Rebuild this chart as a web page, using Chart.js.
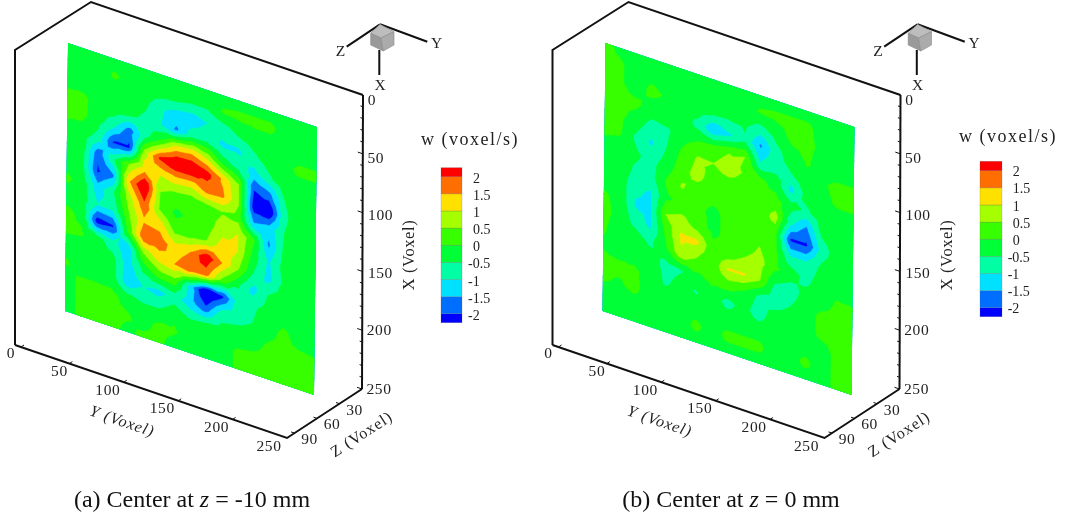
<!DOCTYPE html>
<html><head><meta charset="utf-8">
<style>html,body{margin:0;padding:0;background:#fff}#w{position:absolute;left:0;top:0;width:1067px;height:517px}</style>
<script src="https://cdn.jsdelivr.net/npm/chart.js@4/dist/chart.umd.min.js"></script>
</head><body><div id="w"><canvas id="c" width="1067" height="517"></canvas></div>
<script>
// ---------- data ----------
const contourLevels = [-2,-1.5,-1,-0.5,0,0.5,1,1.5,2];
const bandColors = ['#0000ff','#006eff','#00e1ff','#00ffa5','#00ff37','#37ff00','#a5ff00','#ffe100','#ff6e00','#ff0000'];
const legendLabels = ['2','1.5','1','0.5','0','-0.5','-1','-1.5','-2'];
const xTicks = [0,50,100,150,200,250];
const yTicks = [0,50,100,150,200,250];
const zTicks = [30,60,90];
const captions = ['(a) Center at ','(b) Center at '];
const captionTails = [' = -10 mm',' = 0 mm'];
// w on the measurement plane, rows run down X, columns run along Y
const wCenterMinus10 = [
[-.1,-.2,-.2,-.2,-.2,-.2,-.2,-.2,-.2,-.2,-.2,-.2,-.2,-.2,-.2,-.2,-.2],
[-.2,-.2,-.2,.05,-.1,-.2,-.2,-.2,-.4,-.4,.05,.1,.1,.1,-.2,-.2,-.2],
[-.1,-.2,-.2,-.2,-.2,-.4,-.9,-1.2,-1.3,-1.0,-.8,-.4,-.2,-.2,-.2,-.2,-.2],
[.05,.1,-.2,-.2,-.4,-.6,-1.0,-1.6,-.8,-.7,-1.1,-1.1,-.6,-.2,-.1,.1,.1],
[.1,.1,-.3,-.9,-1.8,-.7,.1,1.1,1.3,.8,-.2,-.7,-1.2,-.6,-.1,-.2,-.2],
[-.1,-.2,-.7,-2.1,-2.1,.8,2.1,2.6,2.6,2.2,1.4,.5,-2.0,-1.7,-.5,-.2,-.2],
[-.2,-.3,-1.9,-.6,.5,1.3,1.0,1.2,1.1,1.7,1.6,.6,-2.3,-2.6,-.6,-.2,-.2],
[-.2,-.4,-2.1,-1.6,1.4,2.6,.5,.2,.1,.2,.45,.3,-1.5,-1.3,-.5,-.2,-.2],
[.1,-.2,-1.3,-.6,.7,1.9,.4,-.1,.1,.2,.8,1.0,.1,-1.6,-.4,-.2,-.2],
[-.2,-.2,-1.0,-.9,.4,1.4,1.3,.3,.3,.5,1.2,1.0,-.2,-1.1,-.3,-.2,-.2],
[.1,-.1,-2.3,-2.1,.1,1.9,1.8,1.2,1.5,2.4,1.5,.6,-.5,-1.2,-.4,-.2,-.2],
[.1,.05,-.3,-.8,-1.4,.5,1.2,1.5,1.9,1.7,.4,-.4,-1.2,-.5,-.2,-.2,-.2],
[-.2,-.2,-.2,-.3,-1.3,-.4,.2,.3,-1.2,-2.8,-2.2,-.9,-.6,-.3,-.2,-.2,-.2],
[.05,-.2,-.2,-.3,-1.4,-1.0,-1.2,-.8,-1.3,-1.9,-.8,-.7,-.5,-.2,.1,-.2,-.2],
[-.2,.1,.1,.1,-.2,-.5,-.5,-.1,-.5,-.4,-.3,-.2,-.2,.05,.1,.1,.05],
[-.2,.1,.1,.1,.05,-.2,.1,.05,-.2,-.2,-.2,.05,.1,.1,.1,.1,.1],
[-.2,.1,.1,.1,-.1,.1,.1,-.2,-.2,-.2,-.2,.05,.1,.1,.1,.1,.15]
];
const wCenter0 = [
[.1,-.1,-.2,-.2,-.2,-.2,-.2,-.2,-.2,-.2,-.2,-.2,-.2,-.2,-.2,-.2,-.2],
[.1,.05,-.2,-.1,-.2,-.2,-.2,-.2,-.2,-.2,.05,.1,.1,.1,-.2,-.2,-.2],
[.1,.05,-.2,.1,-.05,-.2,-.2,-.4,-.45,-.4,-.7,-.3,.1,.1,-.1,-.2,-.2],
[.05,.1,.1,-.2,-.2,-.2,-.7,-1.5,-1.1,-.6,-1.6,-.7,-.2,.05,-.2,-.2,-.2],
[.05,.1,-.2,-.7,-.6,-.2,.0,.1,.45,.5,-1.0,-.7,-.5,-.1,-.05,.1,.1],
[.1,.05,-.6,-1.1,-.5,.1,.55,.5,.9,.4,.1,-.2,-1.2,-.3,-.1,.05,.05],
[-.1,-.2,-.4,-.7,-.3,.3,.7,.2,.1,.1,.1,.2,-.3,-.6,-.2,-.2,-.2],
[-.2,-.2,-.6,-.7,.05,.55,.2,.1,.1,.1,.2,.7,-.9,-1.6,-.4,-.2,-.2],
[-.2,-.2,-.9,-1.05,-.1,.1,.1,-.1,.1,.1,.1,.1,-2.1,-2.1,-.8,-.2,-.2],
[.05,-.1,-1.05,-1.1,.5,.7,.2,-.1,.1,.15,.5,.15,-1.0,-1.0,-.4,-.2,-.2],
[.1,-.1,-.7,-1.1,.1,1.1,1.1,.1,.1,.5,.7,.1,-.2,-.7,-.2,-.1,-.2],
[.05,-.2,-.2,-.6,-.1,.9,.45,.1,1.05,1.05,.55,-.55,-.8,-.3,-.2,.05,.05],
[-.05,-.2,-.1,-.2,-.7,-.55,-.1,.1,.2,-.05,-.6,-.8,-.5,-.2,.1,.1,.1],
[.1,.1,.05,-.1,-.6,-.3,-.55,-.2,-.7,-.3,-.8,-.2,-.2,-.2,.1,.1,.1],
[.05,-.05,.1,-.2,-.2,-.2,-.2,-.2,-.2,-.2,-.2,-.2,-.2,-.2,-.2,.1,.1],
[-.2,-.2,-.2,-.2,-.2,-.2,.1,-.2,.1,.1,.1,-.2,-.2,.1,-.2,.1,.05],
[-.2,-.2,-.2,-.2,-.2,-.2,-.2,-.2,-.2,-.2,-.2,-.2,-.2,-.2,-.2,.1,.1]
];
const panels = [wCenterMinus10, wCenter0];

// ---------- layout (figure units = chart scale units) ----------
const FONT='"Liberation Serif","Times New Roman",serif';
const INK='#111';
const panelDx=[0,537.5];
const legendBox=[{x0:441,x1:462,top:167.7,bot:322.7,v2:176.7,vm2:313.7,txt:473,txtN:468,ty:2.4,tx:470,tyy:140},
                 {x0:980,x1:1002,top:161.3,bot:316.7,v2:170.7,vm2:307.7,txt:1012.7,txtN:1007.7,ty:2,tx:1008,tyy:137}];
function axisX(v,d){return [363-1.0*v/250+d, 95+294*v/250];}
function axisY(v,d){return [15+272*v/250+d, 345+93*v/250];}
function axisZ(v,d){return [362-75*v/100+d, 389+49*v/100];}
function plane(j,i,d,n){const u=i/(n-1),w=j/(n-1);return [68+249*u-3*w+d, 43+84*u+268*w];}

// ---------- datasets via the library: axes, box, triad ----------
function seg(pts,width){return {type:'scatter',showLine:true,data:pts.map(p=>({x:p[0],y:p[1]})),borderColor:INK,borderWidth:width,pointRadius:0,fill:false,tension:0,clip:false,order:1};}
const datasets=[];
panelDx.forEach((d,k)=>{
  const topC=[91+d,2];
  datasets.push(seg([axisX(0,d),axisX(250,d)],2));
  datasets.push(seg([axisY(0,d),axisY(250,d),axisZ(100,d),axisX(250,d)],2));
  datasets.push(seg([axisY(0,d),[15+d,50],topC,axisX(0,d)],2));
  for(let v=0;v<=250;v+=10){
    const p=axisX(v,d),L=(v%50===0)?5:2.5;
    datasets.push(seg([p,[p[0]-L,p[1]-L*0.34]],1));
  }
  yTicks.slice(0,5).forEach(v=>{const p=axisY(v,d);if(v===0){p[0]+=6;p[1]+=2;}datasets.push(seg([p,[p[0]+3,p[1]-2]],1));});
  zTicks.forEach(v=>{const p=axisZ(v,d);datasets.push(seg([p,[p[0]-3.5,p[1]-1.2]],1));});
  // triad arms
  const o=[380+d,24.3];
  datasets.push(seg([o,[427.3+d,41.7]],2));
  datasets.push(seg([o,[346.7+d,46.7]],2));
  datasets.push(seg([[379.3+d,50],[379.3+d,75]],2));
});

// ---------- contour painter: fills the region >= each level on every triangle ----------
function clipAbove(tri,lev){
  const out=[];
  for(let a=0;a<3;a++){
    const P=tri[a],Q=tri[(a+1)%3];
    const pi=P[2]>=lev,qi=Q[2]>=lev;
    if(pi)out.push(P);
    if(pi!==qi){const t=(lev-P[2])/(Q[2]-P[2]);out.push([P[0]+t*(Q[0]-P[0]),P[1]+t*(Q[1]-P[1]),lev]);}
  }
  return out;
}
const contourPlugin={id:'contour',beforeDatasetsDraw(chart){
  const {ctx,scales:{x,y}}=chart;
  panels.forEach((grid,k)=>{
    const d=panelDx[k],n=grid.length;
    const N=(j,i)=>{const p=plane(j,i,d,n);return [x.getPixelForValue(p[0]),y.getPixelForValue(p[1]),grid[j][i]];};
    const tris=[];
    for(let j=0;j<n-1;j++)for(let i=0;i<n-1;i++){
      const a=N(j,i),b=N(j,i+1),c=N(j+1,i+1),e=N(j+1,i);
      const cen=[(a[0]+b[0]+c[0]+e[0])/4,(a[1]+b[1]+c[1]+e[1])/4,(a[2]+b[2]+c[2]+e[2])/4];
      tris.push([a,b,cen],[b,c,cen],[c,e,cen],[e,a,cen]);
    }
    ctx.save();ctx.lineWidth=0.6;ctx.lineJoin='round';
    const cs=[N(0,0),N(0,n-1),N(n-1,n-1),N(n-1,0)];
    ctx.beginPath();cs.forEach((p,q)=>q?ctx.lineTo(p[0],p[1]):ctx.moveTo(p[0],p[1]));ctx.closePath();ctx.clip();
    [-Infinity,...contourLevels].forEach((lev,li)=>{
      ctx.fillStyle=ctx.strokeStyle=bandColors[li];
      ctx.beginPath();
      tris.forEach(t=>{
        const poly=clipAbove(t,lev);
        if(poly.length<3)return;
        poly.forEach((p,q)=>q?ctx.lineTo(p[0],p[1]):ctx.moveTo(p[0],p[1]));ctx.closePath();
      });
      ctx.fill();ctx.stroke();
    });
    ctx.restore();
  });
},
afterDatasetsDraw(chart){
  const {ctx,scales:{x,y}}=chart;
  const X=v=>x.getPixelForValue(v),Y=v=>y.getPixelForValue(v);
  const text=(s,px,py,o={})=>{
    ctx.save();ctx.translate(X(px),Y(py));if(o.rot)ctx.rotate(o.rot*Math.PI/180);
    ctx.font=(o.style||'')+' '+(o.size||14)+'px '+FONT;ctx.fillStyle=o.color||'#222';
    ctx.textAlign=o.align||'center';ctx.textBaseline='middle';
    if(o.sp)ctx.letterSpacing=o.sp+'px';
    ctx.fillText(s,0,0);ctx.restore();
  };
  panelDx.forEach((d,k)=>{
    xTicks.forEach(v=>{const p=axisX(v,d);
      text(String(v),p[0]+(v===0?9:v===50?13:v===200||v===250?17:18),p[1]+(v===0?6:v===50?5:v>=200?1:3),{size:15.5,sp:.6});});
    yTicks.forEach(v=>{const p=axisY(v,d);
      const o=v===0?-4:v===50?-10:v===250?-18:-16;
      text(String(v),p[0]+o,p[1]+8.6,{size:15.5,sp:.6});});
    zTicks.forEach(v=>{const p=axisZ(v,d);text(String(v),p[0]+15,p[1]+7,{size:15.5,sp:.6});});
    text('Y (Voxel)',122+d,422,{size:16,style:'italic',rot:19,sp:1});
    text('Z (Voxel)',362+d,435,{size:16,rot:-33,sp:1});
    text('X (Voxel)',410+d,255,{size:16.5,rot:-90,sp:.6});
    const faces=[['#bdbdbd',[[380,24.3],[394,31.7],[381,38],[370.7,33.3]]],
                 ['#9a9a9a',[[370.7,33.3],[381,38],[383.3,51],[370.7,45]]],
                 ['#ababab',[[381,38],[394,31.7],[394,45],[383.3,51]]]];
    faces.forEach(f=>{ctx.beginPath();f[1].forEach((p,q)=>q?ctx.lineTo(X(p[0]+d),Y(p[1])):ctx.moveTo(X(p[0]+d),Y(p[1])));ctx.closePath();
      ctx.fillStyle=f[0];ctx.fill();ctx.strokeStyle='#8a8a8a';ctx.lineWidth=.6;ctx.stroke();});
    text('Z',340.5+d,52,{size:15.5});text('Y',436.5+d,44,{size:15.5});text('X',380+d,86,{size:15.5});
    const L=legendBox[k];
    const lv=v=>L.vm2+(v+2)/4*(L.v2-L.vm2);
    const edges=[L.bot,...contourLevels.map(lv),L.top];
    bandColors.forEach((c,b)=>{ctx.fillStyle=c;ctx.fillRect(X(L.x0),Y(edges[b+1]),X(L.x1)-X(L.x0),Y(edges[b])-Y(edges[b+1]));
      ctx.strokeStyle='rgba(90,90,90,.35)';ctx.lineWidth=.6;ctx.strokeRect(X(L.x0),Y(edges[b+1]),X(L.x1)-X(L.x0),Y(edges[b])-Y(edges[b+1]));});
    legendLabels.forEach((s,q)=>{const v=2-q*.5;
      text(s,s[0]==='-'?L.txtN:L.txt,lv(v)+L.ty,{size:14,align:'left'});});
    text('w (voxel/s)',L.tx,L.tyy,{size:18,sp:1.5});
    const cx=[192,731][k];
    ctx.save();ctx.fillStyle='#111';ctx.textBaseline='middle';ctx.textAlign='left';
    ctx.font='24px '+FONT;const a=ctx.measureText(captions[k]).width,c=ctx.measureText(captionTails[k]).width;
    ctx.font='italic 24px '+FONT;const b=ctx.measureText('z').width;
    let sx=X(cx)-(a+b+c)/2;const sy=Y(501);
    ctx.font='24px '+FONT;ctx.fillText(captions[k],sx,sy);
    ctx.font='italic 24px '+FONT;ctx.fillText('z',sx+a,sy);
    ctx.font='24px '+FONT;ctx.fillText(captionTails[k],sx+a+b,sy);
    ctx.restore();
  });
}};

new Chart(document.getElementById('c'),{
  data:{datasets},
  options:{responsive:false,animation:false,
    layout:{padding:0},
    plugins:{legend:{display:false},tooltip:{enabled:false},title:{display:false}},
    scales:{
      x:{type:'linear',min:0,max:1067,display:false},
      y:{type:'linear',min:0,max:517,reverse:true,display:false}
    }},
  plugins:[contourPlugin]
});
</script></body></html>
